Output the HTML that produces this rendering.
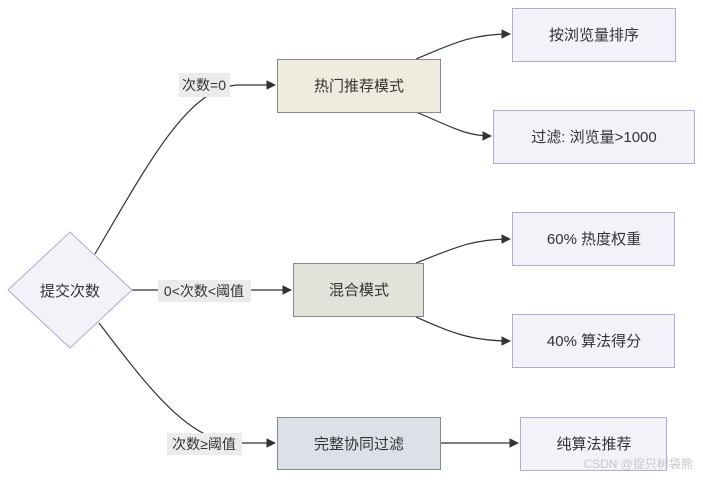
<!DOCTYPE html>
<html><head><meta charset="utf-8"><style>
body{margin:0;background:#fff;}
svg text{font-family:"Liberation Sans","Noto Sans CJK SC",sans-serif;}
</style></head><body>
<svg width="703" height="478" viewBox="0 0 703 478" xmlns="http://www.w3.org/2000/svg">
<defs><marker id="a" viewBox="0 0 10 10" refX="9" refY="5" markerWidth="8" markerHeight="8" orient="auto"><path d="M0,0L10,5L0,10z" fill="#333"/></marker></defs>
<rect width="703" height="478" fill="#fff"/>
<g fill="none" stroke="#333" stroke-width="1.2">
<path d="M95,254 C150,160 190,85 240,85 L275,85" marker-end="url(#a)"/>
<path d="M132,290 L291,290" marker-end="url(#a)"/>
<path d="M99,323 C150,390 190,443 240,443 L275,443" marker-end="url(#a)"/>
<path d="M416,59 C450,45 470,34 510,34" marker-end="url(#a)"/>
<path d="M416,112 C450,126 465,136 491,136" marker-end="url(#a)"/>
<path d="M416,263 C450,250 470,239 510,239" marker-end="url(#a)"/>
<path d="M416,317 C450,332 470,341 510,341" marker-end="url(#a)"/>
<path d="M441,443 L518,443" marker-end="url(#a)"/>
</g>
<polygon points="8,290 70,232 132,290 70,348" fill="#f2f2f8" stroke="#b4a8d4" stroke-width="1"/>
<text x="70" y="296" font-size="15" text-anchor="middle" fill="#333">提交次数</text>
<rect x="277.5" y="59.5" width="163" height="53" fill="#efebdf" stroke="#888"/>
<text x="359" y="91" font-size="15" text-anchor="middle" fill="#333">热门推荐模式</text>
<rect x="293.5" y="263.5" width="130" height="53" fill="#dfe3da" stroke="#888"/>
<text x="359" y="295" font-size="15" text-anchor="middle" fill="#333">混合模式</text>
<rect x="277.5" y="417.5" width="163" height="52" fill="#dce1e8" stroke="#888"/>
<text x="359" y="449" font-size="15" text-anchor="middle" fill="#333">完整协同过滤</text>
<g fill="#f2f2f8" stroke="#b4a8d4">
<rect x="512.5" y="8.5" width="163" height="53"/>
<rect x="493.5" y="110.5" width="201" height="53"/>
<rect x="512.5" y="212.5" width="162" height="53"/>
<rect x="512.5" y="314.5" width="162" height="53"/>
<rect x="520.5" y="417.5" width="146" height="53"/>
</g>
<g font-size="15" text-anchor="middle" fill="#333">
<text x="594" y="40">按浏览量排序</text>
<text x="594" y="142">过滤: 浏览量&gt;1000</text>
<text x="594" y="244">60% 热度权重</text>
<text x="594" y="346">40% 算法得分</text>
<text x="594" y="449">纯算法推荐</text>
</g>
<rect x="179" y="73" width="51" height="24" fill="#ebebeb"/>
<text x="204" y="90" font-size="14" text-anchor="middle" fill="#333">次数=0</text>
<rect x="158" y="280" width="93" height="22" fill="#ebebeb"/>
<text x="204" y="296" font-size="14" text-anchor="middle" fill="#333">0&lt;次数&lt;阈值</text>
<rect x="167" y="433" width="75" height="22" fill="#ebebeb"/>
<text x="204" y="449" font-size="14" text-anchor="middle" fill="#333">次数≥阈值</text>
<text x="693" y="468" font-size="12" text-anchor="end" fill="#c8c8c8">CSDN @捉只树袋熊</text>
</svg>
</body></html>
